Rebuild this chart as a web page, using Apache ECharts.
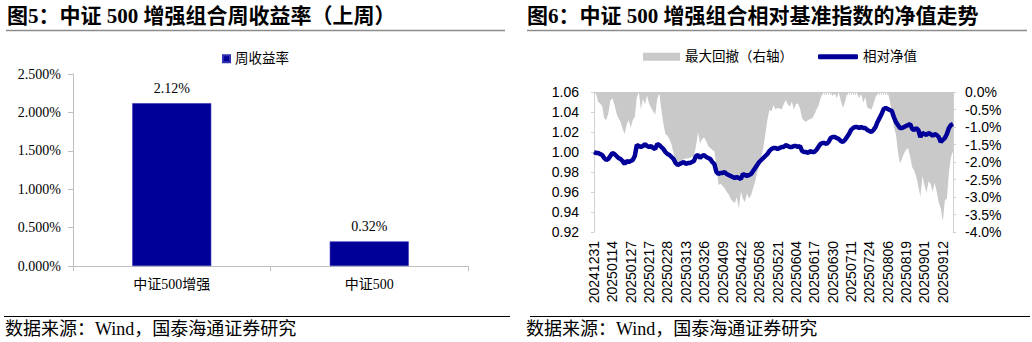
<!DOCTYPE html>
<html>
<head>
<meta charset="utf-8">
<script src="https://cdn.jsdelivr.net/npm/echarts@6/dist/echarts.min.js"></script>
<style>
html,body{margin:0;padding:0;background:#fff;}
#chart{width:1032px;height:342px;}
</style>
</head>
<body>
<div id="chart"></div>
<script>
// ---------- Data ----------
const title5 = '图5：中证 500 增强组合周收益率（上周）';
const title6 = '图6：中证 500 增强组合相对基准指数的净值走势';
const sourceText = '数据来源：Wind，国泰海通证券研究';

const barCategories = ['中证500增强', '中证500'];
const barSeriesName = '周收益率';
const barValues = [2.12, 0.32]; // percent

const lineSeriesName = '相对净值';
const areaSeriesName = '最大回撤（右轴）';

const dates = [
'20241231',
'20250102','20250103','20250106','20250107','20250108','20250109','20250110','20250113','20250114','20250115','20250116','20250117','20250120','20250121','20250122','20250123','20250124','20250127',
'20250205','20250206','20250207','20250210','20250211','20250212','20250213','20250214','20250217','20250218','20250219','20250220','20250221','20250224','20250225','20250226','20250227','20250228',
'20250303','20250304','20250305','20250306','20250307','20250310','20250311','20250312','20250313','20250314','20250317','20250318','20250319','20250320','20250321','20250324','20250325','20250326','20250327','20250328','20250331',
'20250401','20250402','20250403','20250407','20250408','20250409','20250410','20250411','20250414','20250415','20250416','20250417','20250418','20250421','20250422','20250423','20250424','20250425','20250428','20250429','20250430',
'20250506','20250507','20250508','20250509','20250512','20250513','20250514','20250515','20250516','20250519','20250520','20250521','20250522','20250523','20250526','20250527','20250528','20250529','20250530',
'20250603','20250604','20250605','20250606','20250609','20250610','20250611','20250612','20250613','20250616','20250617','20250618','20250619','20250620','20250623','20250624','20250625','20250626','20250627','20250630',
'20250701','20250702','20250703','20250704','20250707','20250708','20250709','20250710','20250711','20250714','20250715','20250716','20250717','20250718','20250721','20250722','20250723','20250724','20250725','20250728','20250729','20250730','20250731',
'20250801','20250804','20250805','20250806','20250807','20250808','20250811','20250812','20250813','20250814','20250815','20250818','20250819','20250820','20250821','20250822','20250825','20250826','20250827','20250828','20250829',
'20250901','20250902','20250903','20250904','20250905','20250908','20250909','20250910','20250911','20250912','20250915','20250916','20250917','20250918','20250919'
];

const navValues = [
1.000,0.999,0.999,0.998,0.997,0.994,0.992,0.993,0.996,0.999,
0.998,0.996,0.994,0.993,0.991,0.988,0.991,0.990,0.991,0.992,
0.996,1.007,1.006,1.005,1.006,1.008,1.006,1.005,1.006,1.004,
1.003,1.008,1.007,1.005,1.003,1.000,0.998,0.997,0.995,0.993,
0.989,0.987,0.988,0.989,0.990,0.988,0.989,0.989,0.990,0.991,
0.996,0.997,0.994,0.996,0.997,0.995,0.994,0.993,0.990,0.988,
0.980,0.978,0.979,0.979,0.980,0.978,0.977,0.976,0.975,0.974,
0.975,0.974,0.973,0.978,0.977,0.976,0.977,0.978,0.981,0.984,
0.987,0.990,0.992,0.994,0.996,0.998,1.001,1.003,1.004,1.004,
1.003,1.004,1.005,1.005,1.007,1.006,1.005,1.005,1.006,1.006,
1.005,1.006,1.001,1.000,1.000,0.999,1.001,1.000,1.000,1.002,
1.005,1.008,1.009,1.009,1.008,1.010,1.014,1.015,1.015,1.014,
1.013,1.011,1.010,1.012,1.015,1.018,1.022,1.024,1.025,1.025,
1.024,1.025,1.024,1.024,1.022,1.021,1.020,1.022,1.025,1.030,
1.034,1.038,1.043,1.044,1.043,1.042,1.041,1.035,1.030,1.027,
1.024,1.024,1.025,1.026,1.027,1.028,1.023,1.022,1.024,1.022,
1.015,1.019,1.018,1.017,1.019,1.018,1.016,1.018,1.017,1.015,
1.010,1.012,1.014,1.018,1.024,1.027,1.028
];

const drawdownValues = [
0,-0.05,-0.28,-0.33,-0.40,-0.75,-0.80,-0.62,-0.25,-0.18,
-0.35,-0.60,-0.75,-0.85,-1.05,-1.20,-0.95,-0.80,-1.02,-0.80,
-0.72,-0.15,0,-0.50,-0.20,-0.35,-0.10,-0.33,-0.45,-0.55,
-0.65,-0.20,-0.02,-0.50,-0.90,-1.20,-1.25,-1.35,-1.50,-1.75,
-2.05,-2.10,-2.02,-1.95,-1.92,-1.90,-1.90,-1.88,-1.86,-1.82,
-1.55,-1.15,-1.47,-1.35,-1.30,-1.40,-1.55,-1.60,-1.65,-1.70,
-2.10,-2.66,-2.62,-2.68,-2.75,-2.85,-2.92,-3.05,-3.12,-3.18,
-3.00,-3.33,-2.85,-3.04,-3.15,-2.90,-3.04,-2.95,-2.75,-2.55,
-2.30,-2.10,-1.85,-1.60,-1.20,-0.80,-0.51,-0.56,-0.37,-0.50,
-0.45,-0.47,-0.50,-0.35,-0.23,-0.35,-0.42,-0.28,-0.50,-0.35,
-0.33,-0.47,-0.75,-0.82,-0.85,-0.80,-0.77,-0.75,-0.65,-0.51,
-0.40,-0.20,-0.02,0,0,0,0,-0.12,0,-0.18,
0,-0.25,-0.45,-0.30,-0.05,0,0,0,0,0,
-0.18,-0.05,-0.30,-0.15,-0.45,-0.47,-0.50,-0.35,-0.15,-0.05,
0,0,0,0,0,-0.25,-0.55,-1.00,-1.20,-1.70,
-2.04,-1.90,-1.75,-1.65,-1.60,-1.85,-2.15,-2.25,-2.42,-2.70,
-2.99,-2.40,-2.66,-2.88,-2.55,-2.62,-2.85,-2.60,-2.85,-3.15,
-3.33,-3.70,-3.10,-3.04,-2.30,-1.85,-1.70
];

// ---------- Styles ----------
const serif = '"Liberation Serif", "Times New Roman", "Noto Sans CJK SC", serif';
const sans = '"Liberation Sans", Arial, "Noto Sans CJK SC", sans-serif';
const blue = '#000099';
const gray = '#c9c9c9';
const axisGray = '#bfbfbf';

const chart = echarts.init(document.getElementById('chart'), null, {renderer: 'svg'});

const option = {
  animation: false,
  backgroundColor: '#fff',
  grid: [
    {left: 73, top: 74, width: 395, height: 192, containLabel: false},
    {left: 594, top: 92, width: 359, height: 140, containLabel: false}
  ],
  legend: [
    {
      data: [barSeriesName], left: 217, top: 47, icon: 'rect', itemWidth: 7, itemHeight: 7, itemGap: 4,
      textStyle: {fontSize: 13.5, fontFamily: serif, color: '#000'}, selectedMode: false
    },
    {
      data: [areaSeriesName], left: 638, top: 45, icon: 'rect', itemWidth: 37, itemHeight: 8,
      textStyle: {fontSize: 13.5, fontFamily: serif, color: '#000'}, selectedMode: false
    },
    {
      data: [{name: lineSeriesName, icon: 'roundRect'}], left: 813, top: 45, itemWidth: 40, itemHeight: 5,
      textStyle: {fontSize: 13.5, fontFamily: serif, color: '#000'}, selectedMode: false
    }
  ],
  xAxis: [
    {
      gridIndex: 0, type: 'category', data: barCategories,
      axisLine: {lineStyle: {color: axisGray}},
      axisTick: {show: true, length: 5, lineStyle: {color: axisGray}},
      axisLabel: {fontSize: 14, fontFamily: serif, color: '#000', margin: 11}
    },
    {
      gridIndex: 1, type: 'category', data: dates, boundaryGap: false,
      axisLine: {lineStyle: {color: '#d0d0d0'}},
      axisTick: {show: true, interval: 0, length: 3, lineStyle: {color: '#d0d0d0'}},
      axisLabel: {interval: 8, rotate: 90, fontSize: 14, fontFamily: sans, color: '#000', margin: 9}
    }
  ],
  yAxis: [
    {
      gridIndex: 0, type: 'value', min: 0, max: 2.5, interval: 0.5,
      axisLine: {show: true, lineStyle: {color: axisGray}},
      axisTick: {show: true, length: 5, lineStyle: {color: axisGray}},
      splitLine: {show: false},
      axisLabel: {formatter: v => v.toFixed(3) + '%', fontSize: 14, fontFamily: serif, color: '#000', margin: 12}
    },
    {
      gridIndex: 1, type: 'value', min: 0.92, max: 1.06, interval: 0.02,
      axisLine: {show: true, lineStyle: {color: '#d0d0d0'}},
      axisTick: {show: true, length: 3, lineStyle: {color: '#d0d0d0'}},
      splitLine: {show: false},
      axisLabel: {formatter: v => v.toFixed(2), fontSize: 14, fontFamily: sans, color: '#000', margin: 15}
    },
    {
      gridIndex: 1, type: 'value', position: 'right', min: -4, max: 0, interval: 0.5,
      axisLine: {show: true, lineStyle: {color: '#d0d0d0'}},
      axisTick: {show: true, length: 3, lineStyle: {color: '#d0d0d0'}},
      splitLine: {show: false},
      axisLabel: {formatter: v => v.toFixed(1) + '%', fontSize: 14, fontFamily: sans, color: '#000', margin: 12}
    }
  ],
  series: [
    {
      name: barSeriesName, type: 'bar', xAxisIndex: 0, yAxisIndex: 0, data: barValues,
      barWidth: '40%',
      itemStyle: {color: blue, borderColor: '#3030b0', borderWidth: 0.6},
      label: {show: true, position: 'top', distance: 8, formatter: p => p.value.toFixed(2) + '%',
              fontSize: 14, fontFamily: serif, color: '#000'}
    },
    {
      name: areaSeriesName, type: 'line', xAxisIndex: 1, yAxisIndex: 2, data: drawdownValues,
      symbol: 'none', z: 1,
      lineStyle: {width: 0, color: gray},
      itemStyle: {color: gray},
      areaStyle: {color: gray, opacity: 1}
    },
    {
      name: lineSeriesName, type: 'line', xAxisIndex: 1, yAxisIndex: 1, data: navValues,
      symbol: 'none', z: 3,
      lineStyle: {width: 4.5, color: blue},
      itemStyle: {color: blue}
    }
  ],
  graphic: [
    {type: 'text', left: 7, top: 5, style: {text: title5, font: 'bold 21px ' + serif, fill: '#000'}},
    {type: 'text', left: 527, top: 5, style: {text: title6, font: 'bold 21px ' + serif, fill: '#000'}},
    {type: 'line', shape: {x1: 6, y1: 30.5, x2: 505, y2: 30.5}, style: {stroke: '#8c8c8c', lineWidth: 1.5}},
    {type: 'line', shape: {x1: 527, y1: 30.5, x2: 1027, y2: 30.5}, style: {stroke: '#8c8c8c', lineWidth: 1.5}},
    {type: 'line', shape: {x1: 4, y1: 316.5, x2: 510, y2: 316.5}, style: {stroke: '#000', lineWidth: 1}},
    {type: 'line', shape: {x1: 530, y1: 316.5, x2: 1030, y2: 316.5}, style: {stroke: '#000', lineWidth: 1}},
    {type: 'text', left: 5, top: 320, style: {text: sourceText, font: '18px ' + serif, fill: '#000'}},
    {type: 'text', left: 526, top: 320, style: {text: sourceText, font: '18px ' + serif, fill: '#000'}}
  ]
};

chart.setOption(option);
</script>
</body>
</html>
